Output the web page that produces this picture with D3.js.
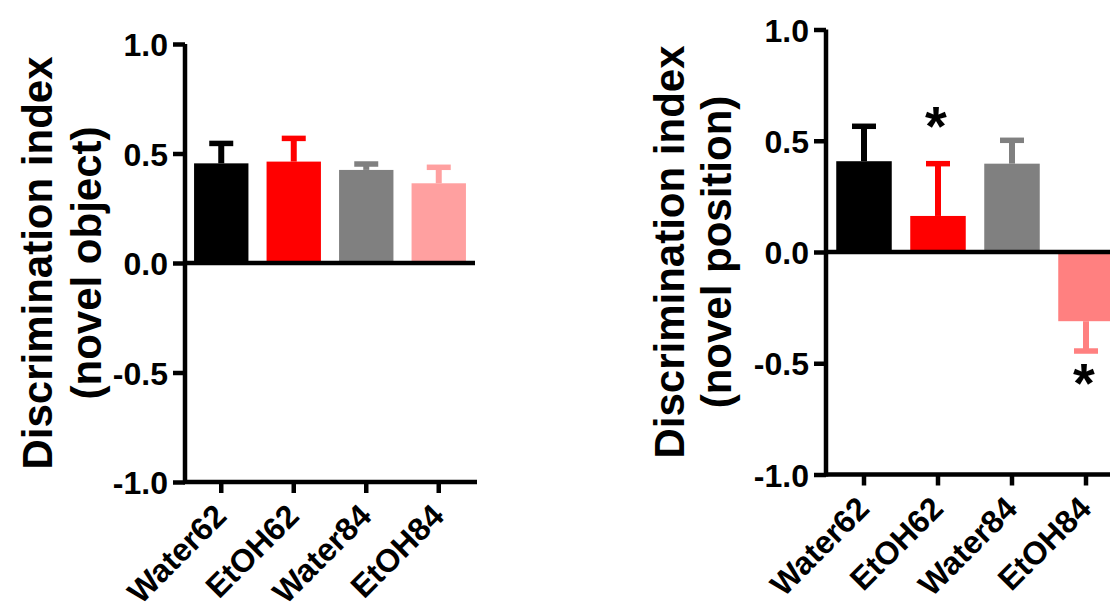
<!DOCTYPE html>
<html>
<head>
<meta charset="utf-8">
<script src="https://cdn.jsdelivr.net/npm/d3@7"></script>
<style>
  html, body { margin: 0; padding: 0; background: #fff; }
  svg { display: block; }
  text { font-family: Arial, "Liberation Sans", sans-serif; font-weight: bold; fill: #000; }
</style>
</head>
<body>
<svg id="chart" width="1110" height="602"></svg>
<script>
// ---- data ----
const categories = ["Water62", "EtOH62", "Water84", "EtOH84"];
const yTickValues = [-1.0, -0.5, 0.0, 0.5, 1.0];

const objectMeans = [0.455, 0.463, 0.425, 0.364];
const objectSEM   = [0.091, 0.106, 0.027, 0.073];
const objectColors = ["#000000", "#ff0000", "#808080", "#ffa0a0"];

const positionMeans = [0.408, 0.162, 0.397, -0.311];
const positionSEM   = [0.157, 0.235, 0.105, 0.134];
const positionColors = ["#000000", "#ff0000", "#808080", "#ff8080"];
const positionSignificant = [false, true, false, true];

const titleLine1 = "Discrimination index";
const objectTitle2 = "(novel object)";
const positionTitle2 = "(novel position)";

// ---- drawing ----
const svg = d3.select("#chart");
const fmt = d => d.toFixed(1);

function panel(cfg) {
  const g = svg.append("g");
  const y = d3.scaleLinear().domain([-1, 1]).range([cfg.yBottom, cfg.yTop]);
  const x = d3.scaleBand().domain(categories).range([cfg.xLeft, cfg.xRight])
    .paddingInner(0.25).paddingOuter(0.125);

  const rows = categories.map((c, i) => ({
    c, v: cfg.means[i], e: cfg.sem[i], color: cfg.colors[i], sig: cfg.sig ? cfg.sig[i] : false
  }));

  // bars
  g.selectAll("rect.bar").data(rows).join("rect")
    .attr("class", "bar")
    .attr("x", d => x(d.c))
    .attr("width", x.bandwidth())
    .attr("y", d => Math.min(y(d.v), y(0)))
    .attr("height", d => Math.abs(y(d.v) - y(0)))
    .attr("fill", d => d.color);

  // error bars (one-sided, away from zero)
  const capW = 24;
  rows.forEach(d => {
    const cx = x(d.c) + x.bandwidth() / 2;
    const end = d.v >= 0 ? d.v + d.e : d.v - d.e;
    g.append("line")
      .attr("x1", cx).attr("x2", cx)
      .attr("y1", y(d.v)).attr("y2", y(end))
      .attr("stroke", d.color).attr("stroke-width", 6);
    g.append("line")
      .attr("x1", cx - capW / 2).attr("x2", cx + capW / 2)
      .attr("y1", y(end)).attr("y2", y(end))
      .attr("stroke", d.color).attr("stroke-width", 5.5);
    if (d.sig) {
      const yc = d.v >= 0 ? y(end) - 50 : y(end) + 20;
      g.append("text")
        .attr("x", cx - 2)
        .attr("y", yc + 31)
        .attr("text-anchor", "middle")
        .style("font-size", "56px")
        .text("*");
    }
  });

  // zero line
  g.append("line")
    .attr("x1", cfg.axisX).attr("x2", cfg.zeroEnd)
    .attr("y1", y(0)).attr("y2", y(0))
    .attr("stroke", "#000").attr("stroke-width", 4.5);

  // y axis
  const yAxis = d3.axisLeft(y).tickValues(yTickValues).tickFormat(fmt).tickSize(12).tickPadding(5);
  const ya = g.append("g").attr("transform", `translate(${cfg.axisX},0)`).call(yAxis);
  ya.select(".domain").attr("stroke", "#000").attr("stroke-width", 4.5)
    .attr("d", `M0,${cfg.yBottom + 2}V${cfg.yTop}`);
  ya.selectAll(".tick line").attr("stroke", "#000").attr("stroke-width", 4.5);
  ya.selectAll(".tick text").style("font-size", "32px").attr("dy", "0.36em")
    .style("font-family", "Arial, 'Liberation Sans', sans-serif").style("font-weight", "bold");

  // x axis at bottom
  const xAxis = d3.axisBottom(x).tickSize(11).tickFormat("");
  const xa = g.append("g").attr("transform", `translate(0,${cfg.yBottom})`).call(xAxis);
  xa.select(".domain").attr("stroke", "#000").attr("stroke-width", 4.5)
    .attr("d", `M${cfg.axisX - 2},0H${cfg.bottomEnd}`);
  xa.selectAll(".tick line").attr("stroke", "#000").attr("stroke-width", 4.5);

  // rotated category labels
  g.selectAll("text.xlab").data(categories).join("text")
    .attr("class", "xlab")
    .attr("text-anchor", "end")
    .style("font-size", "32px")
    .attr("transform", c => `translate(${x(c) + x.bandwidth() / 2 + 7},${cfg.yBottom + 36}) rotate(-45)`)
    .text(c => c);

  // y title
  const midY = (cfg.yTop + cfg.yBottom) / 2;
  g.append("text")
    .attr("transform", `translate(${cfg.title1X},${midY}) rotate(-90)`)
    .attr("text-anchor", "middle")
    .style("font-size", "42px")
    .text(titleLine1);
  g.append("text")
    .attr("transform", `translate(${cfg.title2X},${midY}) rotate(-90)`)
    .attr("text-anchor", "middle")
    .style("font-size", "42px")
    .text(cfg.title2);
}

panel({
  means: objectMeans, sem: objectSEM, colors: objectColors,
  yTop: 44, yBottom: 482, xLeft: 185, xRight: 475, axisX: 185,
  zeroEnd: 475, bottomEnd: 477,
  title1X: 52, title2X: 101, title2: objectTitle2
});

panel({
  means: positionMeans, sem: positionSEM, colors: positionColors, sig: positionSignificant,
  yTop: 29.5, yBottom: 474.5, xLeft: 827, xRight: 1123, axisX: 826,
  zeroEnd: 1130, bottomEnd: 1130,
  title1X: 684, title2X: 731, title2: positionTitle2
});
</script>
</body>
</html>
